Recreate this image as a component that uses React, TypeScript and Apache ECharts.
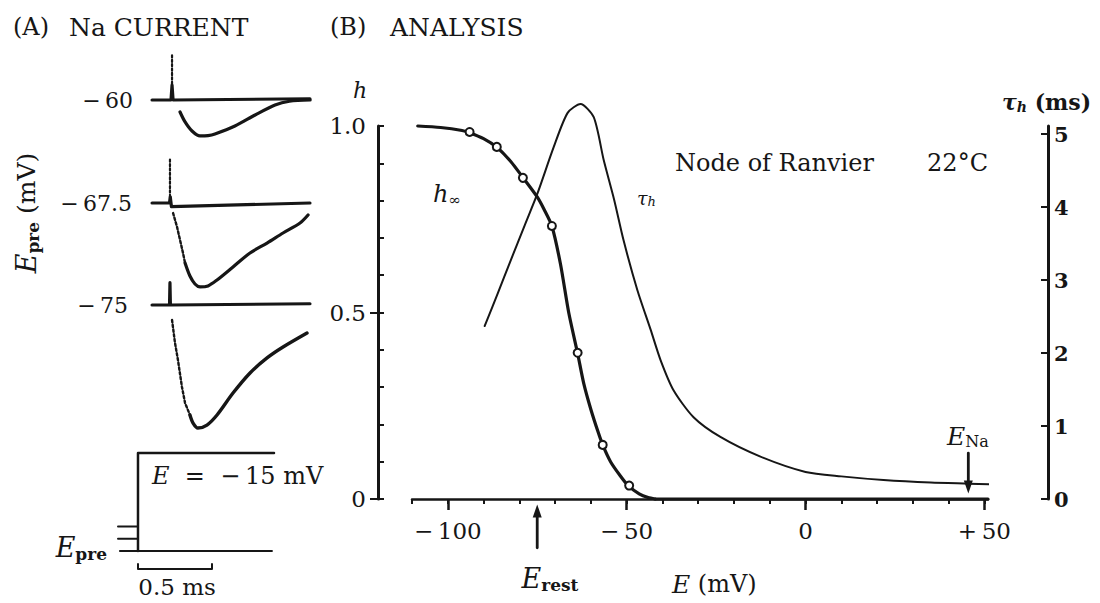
import { useEffect, useRef } from 'react';
import * as echarts from 'echarts';

const FONT = '"DejaVu Serif", "Liberation Serif", serif';
const INK = '#161616';

// ---------- Panel A: Na currents (time in ms from step, current normalised) ----------
const prepulseLabels = ['−\u200960', '−\u200967.5', '−\u200975'];
const baseline60 = [[-0.128, 0], [0.0, 0], [0.007, 0.12], [0.014, 0], [0.939, 0.01]];
const baseline675 = [[-0.128, 0], [-0.01, 0], [-0.005, 0.05], [0.003, -0.03], [0.939, 0]];
const baseline75 = [[-0.128, 0], [-0.01, 0], [-0.007, 0.18], [-0.004, 0], [0.939, 0.01]];
const artifact60 = [[0.007, 0.36], [0.007, 0.13]];
const artifact675 = [[-0.007, 0.35], [-0.007, 0.06]];
const rise675 = [[0.014, -0.081], [0.041, -0.194], [0.061, -0.298], [0.081, -0.403], [0.095, -0.484]];
const rise75 = [[0.007, -0.121], [0.027, -0.306], [0.047, -0.444], [0.074, -0.661], [0.095, -0.79], [0.128, -0.887]];
const current60 = [[0.061, -0.097], [0.095, -0.177], [0.142, -0.25], [0.196, -0.29], [0.25, -0.287], [0.297, -0.274], [0.432, -0.21], [0.568, -0.121], [0.703, -0.04], [0.8, -0.01], [0.94, 0.0]];
const current675 = [[0.095, -0.484], [0.128, -0.589], [0.162, -0.653], [0.196, -0.677], [0.25, -0.669], [0.311, -0.621], [0.419, -0.516], [0.534, -0.403], [0.649, -0.323], [0.757, -0.242], [0.872, -0.161], [0.926, -0.097]];
const current75 = [[0.128, -0.887], [0.149, -0.952], [0.182, -0.992], [0.243, -0.968], [0.311, -0.887], [0.419, -0.71], [0.534, -0.548], [0.649, -0.427], [0.757, -0.339], [0.919, -0.226]];

// voltage protocol (ms, mV)
const protocolBaseline = [[-0.345, -75], [0.682, -75]];
const protocolStep = [[-0.223, -75], [-0.223, -15], [0.696, -15]];
const prepulseTick60 = [[-0.358, -60], [-0.223, -60]];
const prepulseTick675 = [[-0.358, -67.5], [-0.223, -67.5]];
const scaleBar = [[-0.223, -83], [-0.223, -86], [0.277, -86], [0.277, -83]];

// ---------- Panel B: analysis (E in mV) ----------
const hInfCurve = [
  [-108.4, 1.0], [-102, 0.996], [-96, 0.988], [-93.9, 0.982], [-90, 0.966], [-86.3, 0.943],
  [-82.4, 0.905], [-79, 0.862], [-75, 0.81], [-73, 0.775], [-70.9, 0.732], [-68.5, 0.63],
  [-66.2, 0.5], [-63.7, 0.39], [-62, 0.31], [-60, 0.24], [-58, 0.18], [-56.7, 0.145],
  [-54.5, 0.1], [-52, 0.065], [-49.5, 0.035], [-46.5, 0.014], [-44, 0.004], [-42, 0],
];
const hInfFloor = [[-42, 0], [51, 0]];
const hInfPoints = [[-93.9, 0.984], [-86.3, 0.944], [-79, 0.861], [-70.9, 0.732], [-63.7, 0.392], [-56.7, 0.145], [-49.3, 0.036]];
const tauCurve = [
  [-89.7, 2.37], [-86, 2.82], [-82.4, 3.27], [-78.5, 3.75], [-74.9, 4.19], [-70.4, 4.82],
  [-66.5, 5.29], [-62.9, 5.41], [-59.2, 5.23], [-56.4, 4.64], [-53.5, 4.1], [-50.9, 3.55],
  [-47, 2.86], [-43.3, 2.32], [-40.5, 1.9], [-36.9, 1.49], [-31.3, 1.12], [-23.8, 0.85],
  [-12.6, 0.58], [0, 0.37], [10, 0.31], [21.8, 0.26], [35, 0.225], [45.5, 0.21], [59, 0.19],
];
const eRest = -75;
const eNa = 45.5;
const xLabelValues = [-100, -50, 0, 50];
const xMinorTicks = [-110, -100, -90, -80, -70, -60, -50, -40, -30, -20, -10, 0, 10, 20, 30, 40, 50];
const hTicks = [0, 0.1, 0.2, 0.3, 0.4, 0.5, 0.6, 0.7, 0.8, 0.9, 1.0];
const hLabels = [0, 0.5, 1.0];
const tauTicks = [0, 1, 2, 3, 4, 5];

const TRACE_TOPS = [50.4, 153.4, 255.4];

function line(data: any[], xi: number, yi: number, width: number, type: string = 'solid', extra: any = {}) {
  return {
    type: 'line',
    xAxisIndex: xi,
    yAxisIndex: yi,
    data,
    symbol: 'none',
    silent: true,
    lineStyle: { color: INK, width, type, cap: 'round', join: 'round' },
    ...extra,
  };
}

function txt(x: number, y: number, text: string, extra: any = {}, styleExtra: any = {}) {
  const align = styleExtra.align || 'left';
  const va = styleExtra.verticalAlign || 'middle';
  return {
    type: 'text',
    x,
    y,
    ...extra,
    style: {
      text,
      fill: INK,
      fontFamily: FONT,
      fontSize: 24,
      ...styleExtra,
      align,
      textAlign: align,
      verticalAlign: va,
      textVerticalAlign: va,
    },
  };
}

const sub = (size: number, pad: number, extra: any = {}) => ({ fontFamily: FONT, fontSize: size, padding: [pad, 0, 0, 0], fill: INK, ...extra });
const main = (size: number, extra: any = {}) => ({ fontFamily: FONT, fontSize: size, fill: INK, ...extra });

export default function App() {
  const ref = useRef<HTMLDivElement>(null);

  useEffect(() => {
    if (!ref.current) return;
    const chart = echarts.init(ref.current, undefined, { renderer: 'svg' });

    const axisFont = { fontFamily: FONT, color: INK, fontSize: 23 };

    const option: any = {
      animation: false,
      backgroundColor: '#ffffff',
      grid: [
        ...TRACE_TOPS.map((t) => ({ left: 97, top: t, width: 222, height: 198.4 })),
        { left: 97, top: 444.8, width: 222, height: 138.8 },
        { left: 412, top: 126, width: 576, height: 373 },
      ],
      xAxis: [
        ...[0, 1, 2, 3].map((i) => ({ type: 'value', gridIndex: i, min: -0.5, max: 1.0, show: false })),
        {
          type: 'value', gridIndex: 4, position: 'bottom', min: -110, max: 51,
          axisLine: { show: true, onZero: false, lineStyle: { color: INK, width: 2.5 } },
          axisTick: { show: true, customValues: xMinorTicks, length: 5, lineStyle: { color: INK, width: 2 } },
          axisLabel: {
            show: true, customValues: xLabelValues, margin: 20, ...axisFont,
            formatter: (v: number) => (v > 0 ? '+\u2009' + v : v < 0 ? '−\u2009' + -v : '0'),
          },
          splitLine: { show: false },
        },
        {
          type: 'value', gridIndex: 4, position: 'bottom', min: -110, max: 51,
          axisLine: { show: false, onZero: false },
          axisTick: { show: true, customValues: xLabelValues, length: 11, lineStyle: { color: INK, width: 2.5 } },
          axisLabel: { show: false },
          splitLine: { show: false },
        },
      ],
      yAxis: [
        ...[0, 1, 2].map((i) => ({ type: 'value', gridIndex: i, min: -1.2, max: 0.4, show: false })),
        { type: 'value', gridIndex: 3, min: -95, max: -10, show: false },
        {
          type: 'value', gridIndex: 4, position: 'left', offset: 34, min: 0, max: 1.0,
          axisLine: { show: true, onZero: false, lineStyle: { color: INK, width: 3 } },
          axisTick: { show: true, inside: true, customValues: hTicks, length: 6, lineStyle: { color: INK, width: 2 } },
          axisLabel: {
            show: true, customValues: hLabels, margin: 12, ...axisFont, fontSize: 23,
            formatter: (v: number) => (v === 0 ? '0' : v.toFixed(1)),
          },
          splitLine: { show: false },
        },
        {
          type: 'value', gridIndex: 4, position: 'right', offset: 60, min: 0, max: 5.11,
          axisLine: { show: true, onZero: false, lineStyle: { color: INK, width: 3 } },
          axisTick: { show: true, inside: true, customValues: tauTicks, length: 7, lineStyle: { color: INK, width: 2 } },
          axisLabel: { show: true, customValues: tauTicks, margin: 6, ...axisFont, fontSize: 21, fontWeight: 'bold' },
          splitLine: { show: false },
        },
        {
          type: 'value', gridIndex: 4, position: 'left', offset: 34, min: 0, max: 1.0,
          axisLine: { show: false, onZero: false },
          axisTick: { show: true, inside: false, customValues: [0, 0.5], length: 8, lineStyle: { color: INK, width: 2 } },
          axisLabel: { show: false },
          splitLine: { show: false },
        },
      ],
      series: [
        // Panel A traces
        line(baseline60, 0, 0, 3.2),
        line(artifact60, 0, 0, 2.2, 'dotted'),
        line(current60, 0, 0, 3.2, 'solid', { smooth: 0.3 }),
        line(baseline675, 1, 1, 3.2),
        line(artifact675, 1, 1, 2.2, 'dotted'),
        line(rise675, 1, 1, 2.4, 'dotted'),
        line(current675, 1, 1, 3.2, 'solid', { smooth: 0.3 }),
        line(baseline75, 2, 2, 3.2),
        line(rise75, 2, 2, 2.4, 'dotted'),
        line(current75, 2, 2, 3.4, 'solid', { smooth: 0.3 }),
        // protocol
        line(protocolBaseline, 3, 3, 2),
        line(protocolStep, 3, 3, 2.5),
        line(prepulseTick60, 3, 3, 2),
        line(prepulseTick675, 3, 3, 2),
        line(scaleBar, 3, 3, 2),
        // Panel B
        line(hInfCurve, 4, 4, 3.2, 'solid', { smooth: 0.25, clip: false }),
        line(hInfFloor, 4, 4, 3.2, 'solid', { clip: false }),
        line(tauCurve, 4, 5, 2, 'solid', { smooth: 0.25, clip: false }),
        {
          type: 'scatter', xAxisIndex: 4, yAxisIndex: 4, data: hInfPoints, symbol: 'circle', symbolSize: 8,
          itemStyle: { color: '#ffffff', borderColor: INK, borderWidth: 2, opacity: 1 }, z: 5, silent: true,
        },
        line(
          [{ value: [eRest, -0.131], symbol: 'none' }, { value: [eRest, -0.032], symbol: 'triangle', symbolSize: [9, 13] }],
          4, 4, 2.8, 'solid',
          { showSymbol: true, clip: false, itemStyle: { color: INK } },
        ),
        line(
          [{ value: [eNa, 0.123], symbol: 'none' }, { value: [eNa, 0.032], symbol: 'triangle', symbolRotate: 180, symbolSize: [9, 13] }],
          4, 4, 2.8, 'solid',
          { showSymbol: true, clip: false, itemStyle: { color: INK } },
        ),
      ],
      graphic: [
        txt(13, 27, '(A)', {}, { fontSize: 24 }),
        txt(69, 27, 'Na CURRENT', {}, { fontSize: 25 }),
        txt(330, 27, '(B)', {}, { fontSize: 24 }),
        txt(390, 27, 'ANALYSIS', {}, { fontSize: 25 }),
        txt(133, 100, prepulseLabels[0], {}, { align: 'right', fontSize: 22 }),
        txt(132, 203, prepulseLabels[1], {}, { align: 'right', fontSize: 22 }),
        txt(128, 305, prepulseLabels[2], {}, { align: 'right', fontSize: 22 }),
        txt(26, 213, '{e|E}{s|pre}{n| (mV)}', { rotation: Math.PI / 2 }, {
          align: 'center',
          rich: {
            e: main(27, { fontStyle: 'italic' }),
            s: sub(17, 14, { fontWeight: 'bold' }),
            n: main(25),
          },
        }),
        txt(152, 476, '{e|E}{n|  =  −\u200915 mV}', {}, {
          rich: { e: main(24, { fontStyle: 'italic' }), n: main(24) },
        }),
        txt(107, 547, '{e|E}{s|pre}', {}, {
          align: 'right',
          rich: { e: main(27, { fontStyle: 'italic' }), s: sub(17, 14, { fontWeight: 'bold' }) },
        }),
        txt(177, 587, '0.5 ms', {}, { align: 'center', fontSize: 23 }),
        txt(353, 90, 'h', {}, { fontStyle: 'italic', fontSize: 22 }),
        txt(433, 194, '{e|h}{s|∞}', {}, {
          rich: { e: main(24, { fontStyle: 'italic' }), s: sub(15, 12) },
        }),
        txt(637, 198, '{e|τ}{s|h}', {}, {
          rich: { e: main(19, { fontStyle: 'italic' }), s: sub(13, 7, { fontStyle: 'italic' }) },
        }),
        txt(675, 163, 'Node of Ranvier', {}, { fontSize: 24 }),
        txt(988, 163, '22°C', {}, { align: 'right', fontSize: 24 }),
        txt(1002, 102, '{e|τ}{s|h}{n| (ms)}', {}, {
          rich: {
            e: main(22, { fontStyle: 'italic', fontWeight: 'bold' }),
            s: sub(14, 9, { fontStyle: 'italic', fontWeight: 'bold' }),
            n: main(22, { fontWeight: 'bold' }),
          },
        }),
        txt(550, 578, '{e|E}{s|rest}', {}, {
          align: 'center',
          rich: { e: main(27, { fontStyle: 'italic' }), s: sub(17, 14, { fontWeight: 'bold' }) },
        }),
        txt(672, 584, '{e|E}{n| (mV)}', {}, {
          rich: { e: main(25, { fontStyle: 'italic' }), n: main(24) },
        }),
        txt(968, 436, '{e|E}{s|Na}', {}, {
          align: 'center',
          rich: { e: main(25, { fontStyle: 'italic' }), s: sub(16, 11) },
        }),
      ],
    };

    chart.setOption(option);
    return () => chart.dispose();
  }, []);

  return (
    <div
      ref={ref}
      style={{ position: 'absolute', left: 0, top: 0, width: 1100, height: 603, background: '#fff' }}
    />
  );
}
